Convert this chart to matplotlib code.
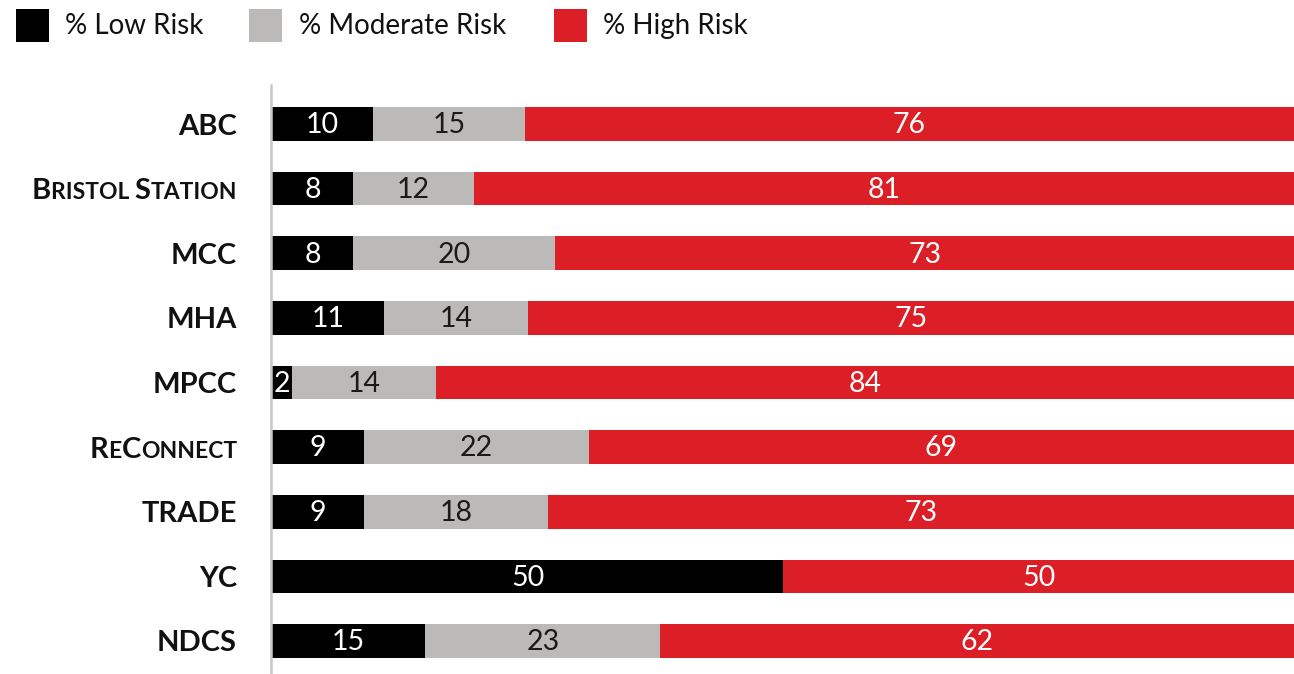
import matplotlib
matplotlib.use("Agg")
import matplotlib.pyplot as plt
from matplotlib.patches import Rectangle
from matplotlib.lines import Line2D
from matplotlib.transforms import offset_copy
import numpy as np

categories = ["ABC", "Bristol Station", "MCC", "MHA", "MPCC", "ReConnect", "TRADE", "YC", "NDCS"]
small_caps = ["Bristol Station", "ReConnect"]
low = [10, 8, 8, 11, 2, 9, 9, 50, 15]
moderate = [15, 12, 20, 14, 14, 22, 18, 0, 23]
high = [76, 81, 73, 75, 84, 69, 73, 50, 62]
series_names = ["% Low Risk", "% Moderate Risk", "% High Risk"]

colors = ["#000000", "#BBBAB8", "#DC1F26"]
text_colors = ["white", "#1a1a1a", "white"]

W, H = 1294, 674
fig = plt.figure(figsize=(W / 100, H / 100), dpi=100)
ax_left = 272 / W
ax_top = 1 - 85 / H
ax = fig.add_axes([ax_left, 0, 1 - ax_left, ax_top])

data = np.array([low, moderate, high], dtype=float)
totals = data.sum(axis=0)
pct = data / totals * 100

y = np.arange(len(categories))
left = np.zeros(len(categories))
VAL_FONT = "Lato"
for k in range(3):
    bars = ax.barh(y, pct[k], left=left, height=0.52, color=colors[k], linewidth=0, zorder=2)
    for i, b in enumerate(bars):
        v = data[k][i]
        if v <= 0:
            continue
        cx = left[i] + pct[k][i] / 2
        ax.text(cx, y[i] + 0.02, f"{int(v)}", ha="center", va="center", color=text_colors[k],
                fontsize=20.5, family=VAL_FONT, fontweight="normal", zorder=3)
    left = left + pct[k]

ax.set_xlim(0, 100)
ax.set_ylim(8 + 33 / 64.6, -39 / 64.6)
ax.axis("off")

# vertical axis line
fig.add_artist(Line2D([270.8 / W, 270.8 / W], [0, ax_top], color="#C8C8C8", lw=1.8))

# category labels (with small caps where needed)
renderer = fig.canvas.get_renderer()
LAB_FONT = "Lato"
BIG = 21
SMALL = 16.5
anchor_px = 237 - 272  # right edge relative to axes left, in dots
cap_px = BIG * 100 / 72 * 0.72
base_tr = ax.get_yaxis_transform()


def runs_of(text, sc):
    if not sc:
        return [(text, BIG)]
    runs = []
    for ch in text:
        big = ch.isupper()
        size = BIG if big else SMALL
        if ch == " " and runs:
            size = runs[-1][1]
        c = ch.upper()
        if runs and runs[-1][1] == size:
            runs[-1] = (runs[-1][0] + c, size)
        else:
            runs.append((c, size))
    return runs


for i, cat in enumerate(categories):
    runs = runs_of(cat, cat in small_caps)
    x_off = anchor_px
    for s, size in reversed(runs):
        tr = offset_copy(base_tr, fig=fig, x=x_off, y=-cap_px / 2, units="dots")
        t = ax.text(0, y[i], s, transform=tr, ha="right", va="baseline", fontsize=size,
                    family=LAB_FONT, fontweight="bold", color="#111111", clip_on=False)
        w = t.get_window_extent(renderer).width
        x_off -= w

# legend
sq_x = [16, 249, 554]
txt_x = [65, 299, 603]
for k in range(3):
    fig.add_artist(Rectangle((sq_x[k] / W, 1 - 42 / H), 33 / W, 33 / H,
                             transform=fig.transFigure, color=colors[k], lw=0))
    fig.text(txt_x[k] / W, 1 - 34 / H, series_names[k], ha="left", va="baseline",
             fontsize=20, family="Lato", color="#111111")

fig.savefig("out.png", dpi=100)
